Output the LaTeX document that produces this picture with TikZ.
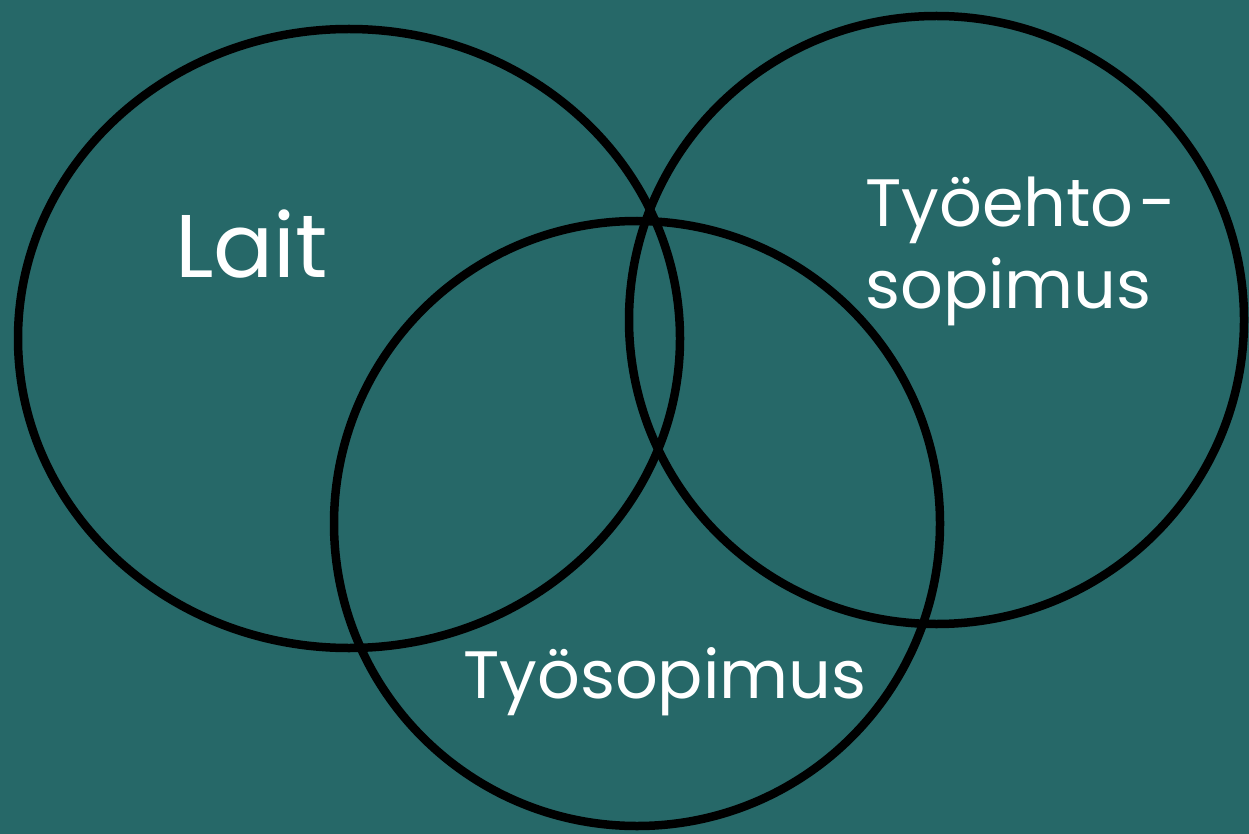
\documentclass[tikz,border=0pt]{standalone}
\usepackage{fontspec}
\setmainfont{Poppins}
\definecolor{bg}{RGB}{38,104,104}
\begin{document}
\begin{tikzpicture}[x=1pt,y=-1pt,
  ring/.style={draw=black,line width=8.5pt},
  lbl/.style={text=white,anchor=base west,inner sep=0pt}]
\fill[bg] (0,0) rectangle (1249,834);
\useasboundingbox (0,0) rectangle (1249,834);
\draw[ring] (349,338.5) ellipse [x radius=331, y radius=309.5];
\draw[ring] (936.5,320) ellipse [x radius=307.5, y radius=304];
\draw[ring] (637,523.5) ellipse [x radius=303, y radius=302.5];
\node[lbl,font=\fontsize{89}{100}\selectfont] (lait) at (175,277) {Lait};
\node[lbl,font=\fontsize{67}{82}\selectfont] (tes1) at (865,226) {Työehto\hspace{6pt}-};
\node[lbl,font=\fontsize{67}{82}\selectfont] (tes2) at (865,308) {sopimus};
\node[lbl,font=\fontsize{67}{82}\selectfont] (ts) at (463,698) {Työsopimus};
\end{tikzpicture}
\end{document}
